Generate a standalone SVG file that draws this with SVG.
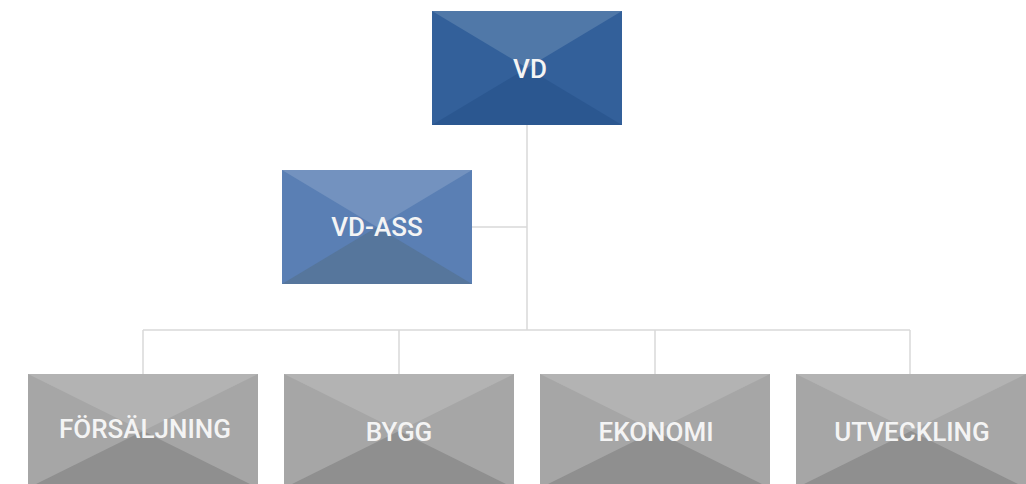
<svg xmlns="http://www.w3.org/2000/svg" width="1026" height="484" viewBox="0 0 1026 484">
<style>
.lbl{font-family:Roboto,"Liberation Sans",sans-serif;font-size:26px;font-weight:500;fill:#f4f4f4;text-anchor:middle}
.conn{stroke:#d9d9d9;stroke-width:1.5;fill:none}
.g-t{fill:#b3b3b3}.g-s{fill:#a6a6a6}.g-b{fill:#8f8f8f}
</style>
<rect width="1026" height="484" fill="#ffffff"/>
<g id="connectors" class="conn">
<path d="M527 125V330"/>
<path d="M472 227H527"/>
<path d="M143 330H910"/>
<path d="M143 330V374M399 330V374M655 330V374M910 330V374"/>
</g>
<g id="vd">
<rect x="432" y="11" width="190" height="114" fill="#33609a"/>
<polygon points="432,11 622,11 527,68" fill="#5078a8"/>
<polygon points="432,125 622,125 527,68" fill="#2b5790"/>
<text class="lbl" x="530" y="78">VD</text>
</g>
<g id="vd-ass">
<rect x="282" y="170" width="190" height="114" fill="#5a7fb4"/>
<polygon points="282,170 472,170 377,227" fill="#7392bf"/>
<polygon points="282,284 472,284 377,227" fill="#56769c"/>
<text class="lbl" x="377" y="236">VD-ASS</text>
</g>
<g id="forsaljning">
<rect x="28" y="374" width="230" height="114" class="g-s"/>
<polygon points="28,374 258,374 143,431" class="g-t"/>
<polygon points="28,488 258,488 143,431" class="g-b"/>
<text class="lbl" x="145" y="438">FÖRSÄLJNING</text>
</g>
<g id="bygg">
<rect x="284" y="374" width="230" height="114" class="g-s"/>
<polygon points="284,374 514,374 399,431" class="g-t"/>
<polygon points="284,488 514,488 399,431" class="g-b"/>
<text class="lbl" x="399" y="441">BYGG</text>
</g>
<g id="ekonomi">
<rect x="540" y="374" width="230" height="114" class="g-s"/>
<polygon points="540,374 770,374 655,431" class="g-t"/>
<polygon points="540,488 770,488 655,431" class="g-b"/>
<text class="lbl" x="656" y="441">EKONOMI</text>
</g>
<g id="utveckling">
<rect x="796" y="374" width="230" height="114" class="g-s"/>
<polygon points="796,374 1026,374 911,431" class="g-t"/>
<polygon points="796,488 1026,488 911,431" class="g-b"/>
<text class="lbl" x="912" y="441">UTVECKLING</text>
</g>
</svg>
